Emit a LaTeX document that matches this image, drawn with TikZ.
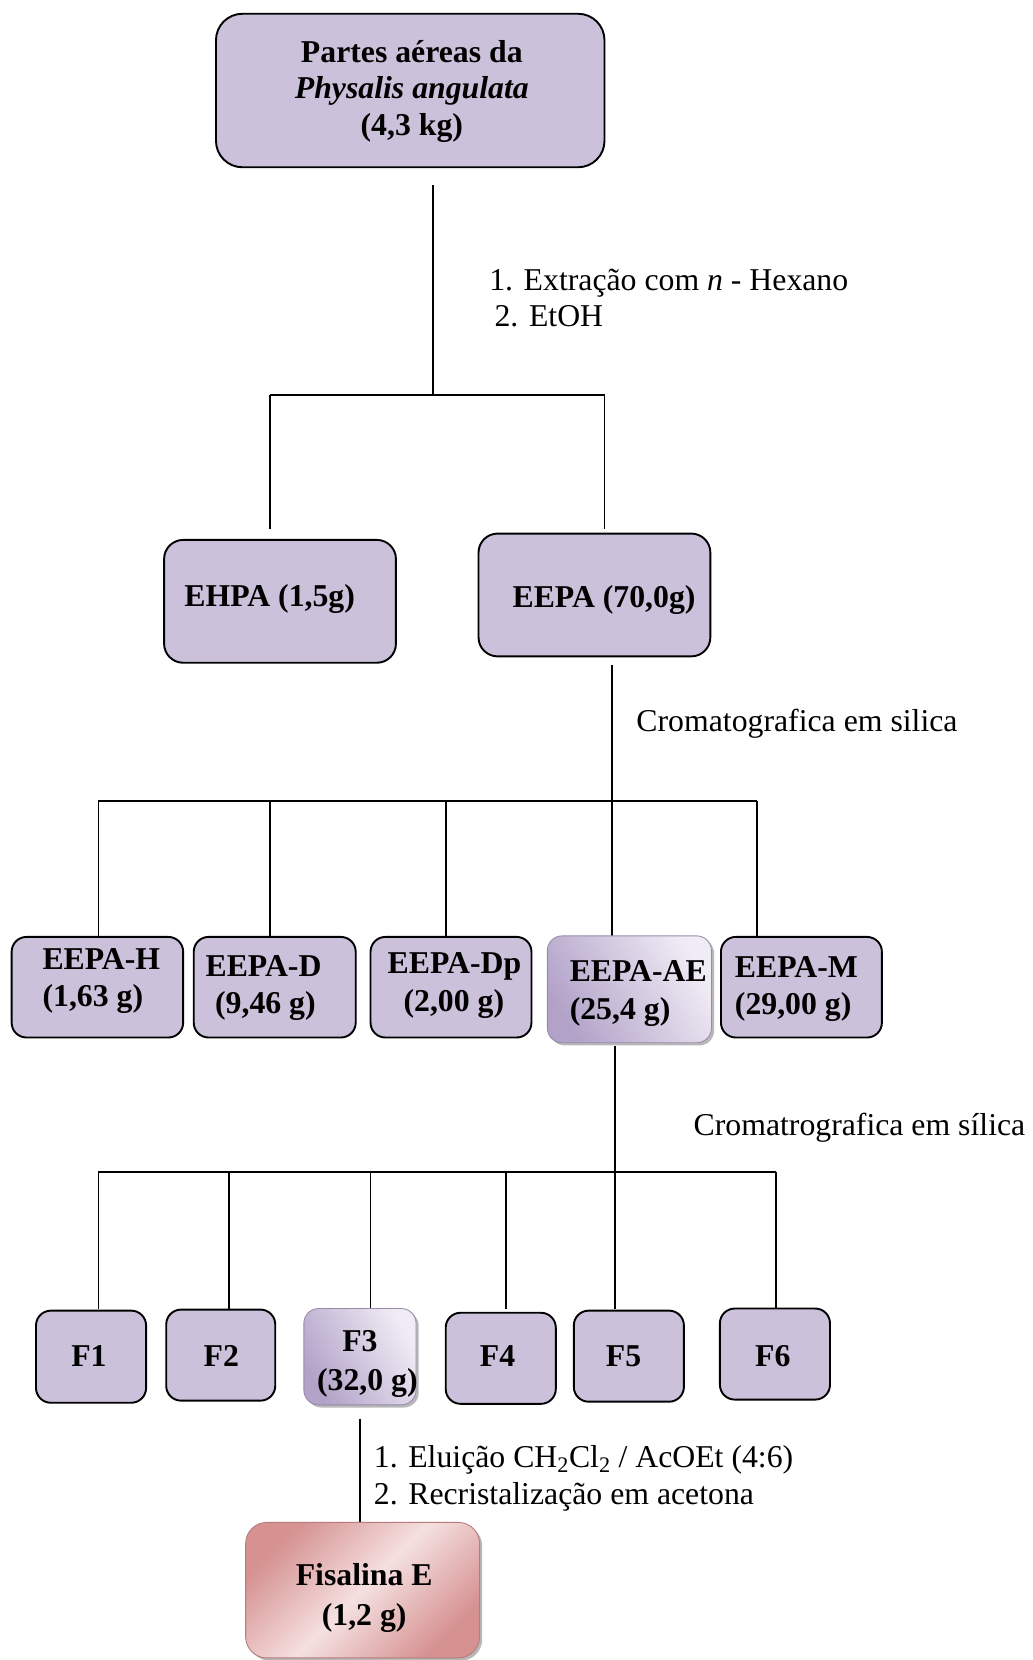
\documentclass[tikz,border=0pt]{standalone}
\usepackage{fontspec}
\setmainfont{Liberation Serif}
\usetikzlibrary{shadows}
\definecolor{lav}{RGB}{204,193,218}
\definecolor{aeD}{RGB}{178,162,200}
\definecolor{aeL}{RGB}{240,236,245}
\definecolor{fD}{RGB}{214,145,145}
\definecolor{fL}{RGB}{245,224,224}
\begin{document}
\begin{tikzpicture}[x=1pt,y=-1pt,
  box/.style={draw=black, line width=1.8pt, fill=lav, rounded corners=14pt, inner sep=0pt},
  gbox/.style={draw=aeD!85!black, line width=0.8pt, rounded corners=14pt, inner sep=0pt,
     left color=aeD, right color=aeL, shading angle=120,
     drop shadow={shadow xshift=2.5pt, shadow yshift=-2.5pt, fill=gray!70, opacity=0.8}},
  pbox/.style={draw=fD!85!black, line width=0.8pt, rounded corners=20pt, inner sep=0pt,
     left color=fD, right color=fD, middle color=fL, shading angle=45,
     drop shadow={shadow xshift=2.5pt, shadow yshift=-2.5pt, fill=gray!70, opacity=0.8}},
  bt/.style={font=\fontsize{30}{35}\selectfont\bfseries, inner sep=0pt},
  rt/.style={font=\fontsize{30}{35}\selectfont, inner sep=0pt},
  ln/.style={line width=1.8pt}]
\useasboundingbox (0,0) rectangle (975,1568);

% top box
\node[box, rounded corners=25pt, minimum width=367pt, minimum height=145pt] (top) at (387.5,85.5) {};
\node[bt, anchor=base] (t1) at (389,59) {Partes aéreas da};
\node[bt, anchor=base] (t2) at (389,93) {\itshape Physalis angulata};
\node[bt, anchor=base] (t3) at (389,128) {(4,3 kg)};

\coordinate (s1) at (409,175);
\coordinate (j1) at (409,373);
\coordinate (j1l) at (255,373);
\coordinate (j1r) at (571,373);
\coordinate (e1l) at (255,500);
\coordinate (e1r) at (571,500);
\draw[ln] (s1) -- (j1);
\draw[ln] (j1l) -- (j1r);
\draw[ln] (j1l) -- (e1l);
\draw[ln] (j1r) -- (e1r);
\node[rt, anchor=base west] (l1a) at (462,274) {1. Extração com \textit{n} - Hexano};
\node[rt, anchor=base west] (l1b) at (467,308) {2. EtOH};

% level 2
\node[box, rounded corners=18pt, minimum width=219pt, minimum height=116pt] (ehpa) at (264.5,568) {};
\node[bt, anchor=base west] (ehpat) at (174,573) {EHPA (1,5g)};
\node[box, rounded corners=18pt, minimum width=219pt, minimum height=116pt] (eepa) at (561.5,562) {};
\node[bt, anchor=base west] (eepat) at (484,574) {EEPA (70,0g)};

\coordinate (s2) at (578,628);
\coordinate (j2) at (578,757);
\coordinate (h2l) at (93,757);
\coordinate (h2r) at (715,757);
\draw[ln] (s2) -- (j2);
\draw[ln] (h2l) -- (h2r);
\foreach \x [count=\i] in {93,255,421,578,715} {
  \coordinate (a2\i) at (\x,757);
  \coordinate (b2\i) at (\x,884);
  \draw[ln] (a2\i) -- (b2\i);
}
\node[rt, anchor=base west] (l2) at (601,691) {Cromatografica em silica};

% level 3
\node[box, minimum width=162pt, minimum height=95pt] (bh) at (92,932.5) {};
\node[bt, anchor=base west] (bh1) at (40,916) {EEPA-H};
\node[bt, anchor=base west] (bh2) at (40,951) {(1,63 g)};
\node[box, minimum width=153pt, minimum height=95pt] (bd) at (259.5,932.5) {};
\node[bt, anchor=base west] (bd1) at (194,922) {EEPA-D};
\node[bt, anchor=base west] (bd2) at (203,957) {(9,46 g)};
\node[box, minimum width=152pt, minimum height=95pt] (bdp) at (426,932.5) {};
\node[bt, anchor=base west] (bdp1) at (366,920) {EEPA-Dp};
\node[bt, anchor=base west] (bdp2) at (381,955) {(2,00 g)};
\node[gbox, minimum width=155pt, minimum height=101pt] (bae) at (594.5,934.5) {};
\node[bt, anchor=base west] (bae1) at (538,927) {EEPA-AE};
\node[bt, anchor=base west] (bae2) at (538,963) {(25,4 g)};
\node[box, minimum width=152pt, minimum height=95pt] (bm) at (757,932.5) {};
\node[bt, anchor=base west] (bm1) at (694,923) {EEPA-M};
\node[bt, anchor=base west] (bm2) at (694,958) {(29,00 g)};

\coordinate (s3) at (581,988);
\coordinate (j3) at (581,1107);
\coordinate (h3l) at (93,1107);
\coordinate (h3r) at (733,1107);
\draw[ln] (s3) -- (j3);
\draw[ln] (h3l) -- (h3r);
\foreach \x [count=\i] in {93,216,350,478,581,733} {
  \coordinate (a3\i) at (\x,1107);
  \coordinate (b3\i) at (\x,1236);
  \draw[ln] (a3\i) -- (b3\i);
}
\node[rt, anchor=base west] (l3) at (655,1073) {Cromatrografica em sílica};

% level 4
\node[box, minimum width=104pt, minimum height=87pt] (f1) at (86,1281.5) {};
\node[bt, anchor=base] (f1t) at (84,1291) {F1};
\node[box, minimum width=103pt, minimum height=86pt] (f2) at (208.5,1280) {};
\node[bt, anchor=base] (f2t) at (209,1291) {F2};
\node[gbox, minimum width=106pt, minimum height=91pt] (f3) at (340,1281.5) {};
\node[bt, anchor=base] (f3t) at (340,1277) {F3};
\node[bt, anchor=base] (f3w) at (347,1313) {(32,0 g)};
\node[box, minimum width=104pt, minimum height=86pt] (f4) at (473,1283) {};
\node[bt, anchor=base] (f4t) at (470,1291) {F4};
\node[box, minimum width=104pt, minimum height=86pt] (f5) at (594,1281) {};
\node[bt, anchor=base] (f5t) at (589,1291) {F5};
\node[box, minimum width=104pt, minimum height=86pt] (f6) at (732,1279) {};
\node[bt, anchor=base] (f6t) at (730,1291) {F6};

\coordinate (s4) at (340,1340);
\coordinate (e4) at (340,1438);
\draw[ln] (s4) -- (e4);
\node[rt, anchor=base west] (l4a) at (353,1386) {1. Eluição CH\textsubscript{2}Cl\textsubscript{2} / AcOEt (4:6)};
\node[rt, anchor=base west] (l4b) at (353,1421) {2. Recristalização em acetona};

% final
\node[pbox, minimum width=221pt, minimum height=128pt] (fis) at (342.5,1502) {};
\node[bt, anchor=base] (fis1) at (344,1498) {Fisalina E};
\node[bt, anchor=base] (fis2) at (344,1535) {(1,2 g)};
\end{tikzpicture}
\end{document}
